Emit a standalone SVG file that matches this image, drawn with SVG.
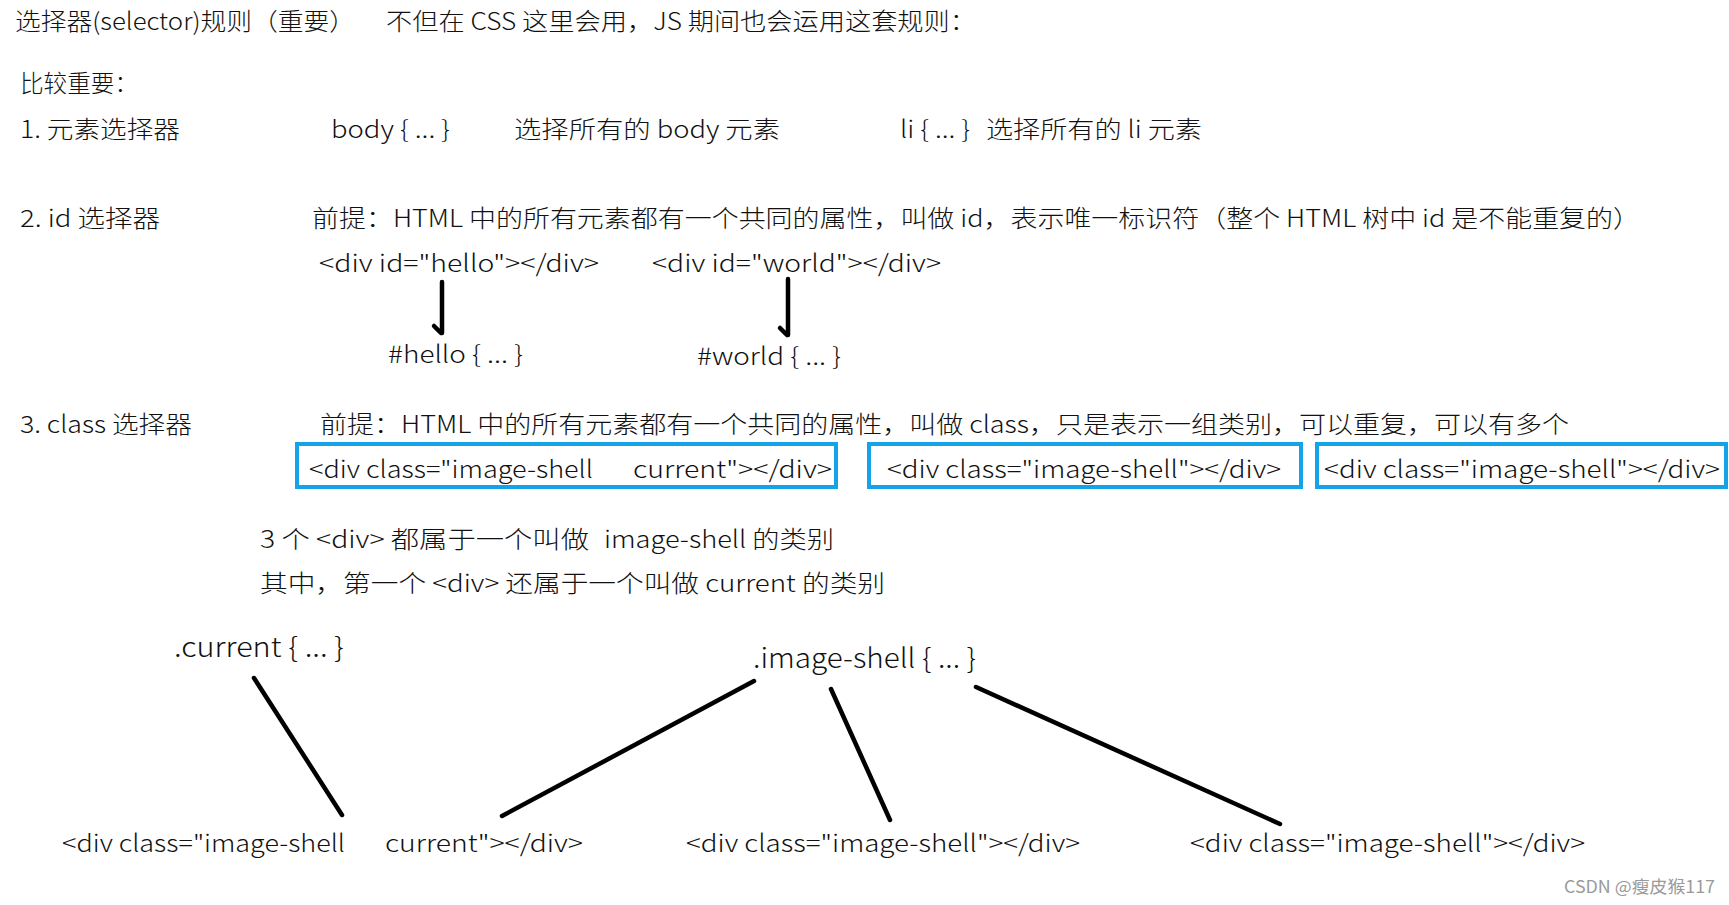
<svg xmlns="http://www.w3.org/2000/svg" width="1729" height="905" viewBox="0 0 1729 905">
<style>
text{font-family:"Noto Sans CJK SC","Liberation Sans",sans-serif;font-weight:300;fill:#111;font-size:24px}
.big{font-size:27px}
.box{fill:none;stroke:#14A3E6;stroke-width:4}
.ln{stroke:#000;stroke-width:4.5;stroke-linecap:round;fill:none}
.wm{font-size:17px;fill:#9a9a9a;font-weight:400}
</style>
<rect width="1729" height="905" fill="#fff"/>
<g id="header">
<text x="15" y="30" textLength="340" lengthAdjust="spacingAndGlyphs">选择器(selector)规则（重要）</text>
<text x="386" y="30" textLength="590" lengthAdjust="spacingAndGlyphs">不但在 CSS 这里会用，JS 期间也会运用这套规则：</text>
<text x="20" y="92" textLength="118" lengthAdjust="spacingAndGlyphs">比较重要：</text>
</g>
<g id="sec1">
<text x="20" y="138" textLength="160" lengthAdjust="spacingAndGlyphs">1. 元素选择器</text>
<text x="331" y="138" textLength="119" lengthAdjust="spacingAndGlyphs">body { ... }</text>
<text x="514" y="138" textLength="266" lengthAdjust="spacingAndGlyphs">选择所有的 body 元素</text>
<text x="900" y="138" textLength="70" lengthAdjust="spacingAndGlyphs">li { ... }</text>
<text x="986" y="138" textLength="216" lengthAdjust="spacingAndGlyphs">选择所有的 li 元素</text>
</g>
<g id="sec2">
<text x="20" y="227" textLength="140" lengthAdjust="spacingAndGlyphs">2. id 选择器</text>
<text x="312" y="227" textLength="1328" lengthAdjust="spacingAndGlyphs">前提：HTML 中的所有元素都有一个共同的属性，叫做 id，表示唯一标识符（整个 HTML 树中 id 是不能重复的）</text>
</g>
<g id="div-hello"><text x="319" y="272" textLength="280" lengthAdjust="spacingAndGlyphs">&lt;div id="hello"&gt;&lt;/div&gt;</text></g>
<g id="div-world"><text x="652" y="272" textLength="289" lengthAdjust="spacingAndGlyphs">&lt;div id="world"&gt;&lt;/div&gt;</text></g>
<g id="sel-hello"><text x="388" y="363" textLength="135" lengthAdjust="spacingAndGlyphs">#hello { ... }</text></g>
<g id="sel-world"><text x="697" y="365" textLength="144" lengthAdjust="spacingAndGlyphs">#world { ... }</text></g>
<g id="sec3">
<text x="20" y="433" textLength="172" lengthAdjust="spacingAndGlyphs">3. class 选择器</text>
<text x="320" y="433" textLength="1249" lengthAdjust="spacingAndGlyphs">前提：HTML 中的所有元素都有一个共同的属性，叫做 class，只是表示一组类别，可以重复，可以有多个</text>
</g>
<g id="box1">
<rect class="box" x="297" y="444" width="539" height="43"/>
<text x="309" y="478" textLength="284" lengthAdjust="spacingAndGlyphs">&lt;div class="image-shell</text>
<text x="633" y="478" textLength="199" lengthAdjust="spacingAndGlyphs">current"&gt;&lt;/div&gt;</text>
</g>
<g id="box2">
<rect class="box" x="869" y="444" width="432" height="43"/>
<text x="887" y="478" textLength="394" lengthAdjust="spacingAndGlyphs">&lt;div class="image-shell"&gt;&lt;/div&gt;</text>
</g>
<g id="box3">
<rect class="box" x="1317" y="444" width="409" height="43"/>
<text x="1324" y="478" textLength="396" lengthAdjust="spacingAndGlyphs">&lt;div class="image-shell"&gt;&lt;/div&gt;</text>
</g>
<g id="notes">
<text x="260" y="548" textLength="329" lengthAdjust="spacingAndGlyphs">3 个 &lt;div&gt; 都属于一个叫做</text>
<text x="604" y="548" textLength="230" lengthAdjust="spacingAndGlyphs">image-shell 的类别</text>
<text x="260" y="592" textLength="625" lengthAdjust="spacingAndGlyphs">其中，第一个 &lt;div&gt; 还属于一个叫做 current 的类别</text>
</g>
<g id="sel-current"><text class="big" x="174" y="657" textLength="170" lengthAdjust="spacingAndGlyphs">.current { ... }</text></g>
<g id="sel-image-shell"><text class="big" x="753" y="668" textLength="223" lengthAdjust="spacingAndGlyphs">.image-shell { ... }</text></g>
<g id="bottom-div1">
<text x="62" y="852" textLength="283" lengthAdjust="spacingAndGlyphs">&lt;div class="image-shell</text>
<text x="385" y="852" textLength="198" lengthAdjust="spacingAndGlyphs">current"&gt;&lt;/div&gt;</text>
</g>
<g id="bottom-div2"><text x="686" y="852" textLength="394" lengthAdjust="spacingAndGlyphs">&lt;div class="image-shell"&gt;&lt;/div&gt;</text></g>
<g id="bottom-div3"><text x="1190" y="852" textLength="395" lengthAdjust="spacingAndGlyphs">&lt;div class="image-shell"&gt;&lt;/div&gt;</text></g>
<g id="connectors">
<path class="ln" d="M442,282 L442,333 M434,326 L441,333"/>
<path class="ln" d="M788,279 L788,335 M780,328 L787,335"/>
<path class="ln" d="M254,678 L342,815"/>
<path class="ln" d="M754,681 L502,816"/>
<path class="ln" d="M831,689 L890,820"/>
<path class="ln" d="M976,687 L1280,824"/>
</g>
<text class="wm" x="1564" y="893" textLength="151" lengthAdjust="spacingAndGlyphs">CSDN @瘦皮猴117</text>
</svg>
